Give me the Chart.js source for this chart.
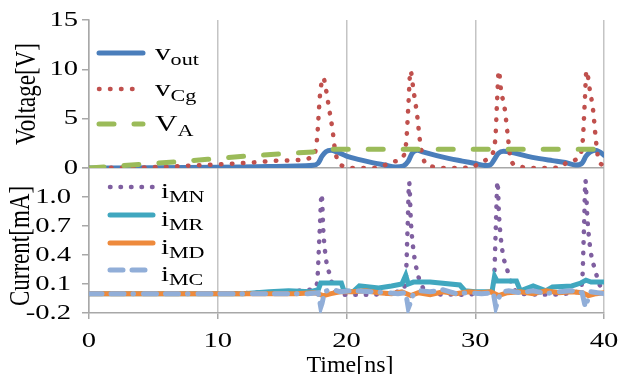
<!DOCTYPE html>
<html lang="en">
<head>
  <meta charset="UTF-8">
  <title>Voltage and current waveforms</title>
  <style>
    body { margin: 0; background: #fff; }
    canvas { display: block; }
  </style>
</head>
<body>
<canvas id="chartCanvas" width="618" height="374"></canvas>
<script src="https://cdn.jsdelivr.net/npm/chart.js"></script>
<script>
  // values, time in ns
  const voutT = [0, 5, 10, 14, 17.4, 17.8, 18.1, 18.4, 18.8, 19.3, 20, 21, 22, 23, 23.8, 24.4, 24.8, 25.1, 25.5, 26, 27, 28, 29, 30, 30.8, 31.2, 31.5, 31.8, 32.2, 32.8, 34, 35, 36, 37, 37.8, 38.3, 38.6, 38.9, 39.3, 39.7, 40];
  const voutV = [0, 0.03, 0.08, 0.15, 0.28, 0.5, 1.2, 1.65, 1.8, 1.6, 1.2, 0.85, 0.55, 0.3, 0.1, 0.2, 0.7, 1.5, 1.8, 1.6, 1.25, 0.95, 0.7, 0.45, 0.25, 0.35, 0.9, 1.5, 1.7, 1.6, 1.2, 0.95, 0.75, 0.55, 0.3, 0.5, 1.2, 1.6, 1.8, 1.6, 1.3];

  const vcgT = [0, 4, 10, 12.5, 15, 17.4, 17.7, 17.95, 18.2, 18.4, 18.65, 18.9, 19.1, 19.3, 19.7, 20.5, 22, 22.8, 23.6, 24.4, 24.65, 24.8, 24.97, 25.2, 25.5, 25.7, 25.95, 26.5, 28, 29.7, 30.4, 31.1, 31.55, 31.7, 31.83, 32.0, 32.3, 32.55, 32.75, 33.3, 35, 36.6, 37.2, 38.0, 38.35, 38.5, 38.64, 38.9, 39.15, 39.36, 39.55, 40];
  const vcgV = [0, 0.05, 0.37, 0.54, 0.75, 1.1, 2.8, 7.5, 9.15, 8.0, 6.0, 4.0, 1.9, 0.8, 0.2, 0, 0, 0.2, 0.64, 1.15, 2.8, 6.2, 9.86, 7.9, 5.2, 2.8, 1.0, 0.2, 0, 0.05, 0.58, 1.08, 2.8, 6.9, 9.86, 7.9, 5.9, 3.0, 0.9, 0.2, 0, 0.05, 0.64, 1.05, 2.8, 6.5, 9.86, 7.9, 5.9, 3.0, 1.0, 0.2];

  const vaT = [0, 3, 6.3, 9.2, 12.2, 14.8, 17.7, 19, 40];
  const vaV = [0, 0.28, 0.58, 0.88, 1.2, 1.42, 1.65, 1.9, 1.9];

  const imnT = [0, 10, 15, 17.2, 17.7, 17.9, 18.07, 18.2, 18.45, 18.7, 19.0, 19.5, 22, 24.3, 24.6, 24.75, 24.87, 25.0, 25.2, 25.5, 25.8, 26.3, 29, 31.2, 31.45, 31.6, 31.73, 31.85, 32.1, 32.5, 32.9, 33.4, 36, 38.0, 38.3, 38.45, 38.56, 38.7, 38.95, 39.3, 39.7, 40];
  const imnI = [0, 0, 0.02, 0.04, 0.1, 0.6, 1.03, 0.65, 0.32, 0.2, 0.06, -0.01, -0.01, 0.03, 0.15, 0.7, 1.15, 0.75, 0.45, 0.22, 0.1, 0.0, -0.01, 0.02, 0.12, 0.7, 1.16, 0.8, 0.45, 0.24, 0.08, 0.0, -0.01, 0.02, 0.12, 0.7, 1.17, 0.8, 0.45, 0.25, 0.08, 0.03];

  const imrT = [0, 12, 14, 15.5, 17.2, 17.8, 18.0, 19.6, 19.8, 20.5, 21, 22.5, 23.5, 24.3, 24.6, 24.8, 25.2, 26.5, 28.8, 29.2, 30, 31.3, 31.5, 31.7, 33.2, 33.5, 34.5, 35.5, 36, 37.5, 38.2, 38.6, 39, 40];
  const imrI = [0, 0, 0.02, 0.03, 0.02, 0.04, 0.11, 0.11, 0.03, 0.02, 0.08, 0.06, 0.08, 0.1, 0.19, 0.1, 0.12, 0.12, 0.09, 0.03, 0.02, 0.02, 0.18, 0.13, 0.13, 0.03, 0.08, 0.03, 0.07, 0.08, 0.11, 0.14, 0.12, 0.12];

  const imdT = [0, 16, 17.5, 18.2, 18.8, 19.5, 20.5, 21.5, 22.5, 23.5, 24.3, 25.0, 25.6, 26.5, 27.5, 28.5, 29.5, 30.5, 31.2, 31.8, 32.5, 33.5, 34.5, 35.5, 36.5, 37.5, 38.3, 38.8, 39.4, 40];
  const imdI = [0, 0, 0.01, -0.02, 0.0, 0.02, 0.02, 0.03, 0.01, 0.0, 0.02, -0.02, 0.01, -0.01, 0.02, 0.0, 0.02, 0.01, 0.02, -0.02, 0.01, 0.02, 0.0, 0.03, 0.01, 0.02, 0.01, -0.02, 0.0, 0.01];

  const imcT = [0, 17, 17.8, 18.0, 18.1, 18.3, 18.8, 19.5, 20.5, 22, 23, 24, 24.6, 24.8, 24.95, 25.2, 25.7, 26.5, 27.5, 28.5, 29.5, 30.5, 31.4, 31.6, 31.75, 32, 32.6, 33.5, 34.5, 35.5, 36.5, 37.5, 38.3, 38.55, 38.7, 38.95, 39.5, 40];
  const imcI = [0, 0, 0.01, -0.14, -0.1, 0.02, 0.05, 0.02, 0.03, 0.02, 0.01, 0.0, 0.01, -0.15, -0.1, 0.0, 0.03, 0.02, 0.04, 0.0, 0.01, 0.0, 0.01, -0.14, -0.08, 0.02, 0.03, 0.01, 0.03, 0.0, 0.02, 0.03, 0.01, -0.14, -0.08, 0.02, 0.01, 0.0];

  const SERIF = '"Liberation Serif", "Times New Roman", serif';
  const SX = 1.3;          // the reference text is rendered wide
  const GRID = '#c4c4c4';
  const AXIS = '#a8a8a8';

  function pairs(xs, ys) {
    return xs.map((x, i) => ({ x: x, y: ys[i] }));
  }

  // text drawn stretched horizontally
  function wideText(ctx, text, x, y, size, align, baseline, sx) {
    ctx.save();
    ctx.font = size + 'px ' + SERIF;
    ctx.fillStyle = '#000';
    ctx.textAlign = align;
    ctx.textBaseline = baseline || 'middle';
    ctx.translate(x, y);
    ctx.scale(sx || SX, 1);
    ctx.fillText(text, 0, 0);
    ctx.restore();
  }

  function upText(ctx, text, x, y, size) {
    ctx.save();
    ctx.font = size + 'px ' + SERIF;
    ctx.fillStyle = '#000';
    ctx.textAlign = 'center';
    ctx.textBaseline = 'middle';
    ctx.translate(x, y);
    ctx.rotate(-Math.PI / 2);
    ctx.scale(1, SX);
    ctx.fillText(text, 0, 0);
    ctx.restore();
  }

  function subLabel(ctx, main, sub, x, y, size, subSize, dy) {
    ctx.save();
    ctx.font = size + 'px ' + SERIF;
    const w = ctx.measureText(main).width * SX;
    ctx.restore();
    wideText(ctx, main, x, y, size, 'left', 'alphabetic');
    wideText(ctx, sub, x + w, y + dy, subSize, 'left', 'alphabetic');
  }

  const legendLayout = {
    yV: { x0: 99, x1: 143, tx: 155, rows: [53, 89, 124], size: 24, sub: 17, base: 7, dy: 5 },
    yI: { x0: 110, x1: 153, tx: 161, rows: [187, 215, 243, 270], size: 22, sub: 17, base: 11, dy: 4 }
  };

  const paperText = {
    id: 'paperText',
    afterDraw(chart) {
      const ctx = chart.ctx;
      const sx = chart.scales.x, sv = chart.scales.yV, si = chart.scales.yI;

      sx.ticks.forEach(t => wideText(ctx, String(t.value), sx.getPixelForValue(t.value), 341, 22, 'center'));
      sv.ticks.forEach(t => wideText(ctx, String(t.value), 78, sv.getPixelForValue(t.value), 22, 'right'));
      si.ticks.forEach(t => {
        if (t.value > 1.25) return;
        wideText(ctx, t.value.toFixed(1), 71, si.getPixelForValue(t.value), 22, 'right');
      });

      upText(ctx, 'Voltage[V]', 27, 94, 23);
      upText(ctx, 'Current[mA]', 21, 246, 23);
      wideText(ctx, 'Time[ns]', 350, 366, 24, 'center', 'middle', 1.0);

      ['yV', 'yI'].forEach(axis => {
        const L = legendLayout[axis];
        const sets = chart.data.datasets.filter(d => d.yAxisID === axis);
        sets.forEach((d, i) => {
          const y = L.rows[i];
          ctx.save();
          ctx.strokeStyle = d.borderColor;
          ctx.lineWidth = d.borderWidth;
          ctx.lineCap = d.borderCapStyle || 'butt';
          ctx.setLineDash(d.borderDash || []);
          ctx.beginPath();
          ctx.moveTo(L.x0, y);
          ctx.lineTo(L.x1, y);
          ctx.stroke();
          ctx.restore();
          subLabel(ctx, d.main, d.sub, L.tx, y + L.base, L.size, L.sub, L.dy);
        });
      });
    }
  };

  const ctx = document.getElementById('chartCanvas').getContext('2d');

  new Chart(ctx, {
    type: 'line',
    data: {
      datasets: [
        { main: 'v', sub: 'out', data: pairs(voutT, voutV), yAxisID: 'yV', order: 6,
          borderColor: '#4a7ebb', borderWidth: 5, borderCapStyle: 'round', cubicInterpolationMode: 'monotone' },
        { main: 'v', sub: 'Cg', data: pairs(vcgT, vcgV), yAxisID: 'yV', order: 5,
          borderColor: '#c0504d', borderWidth: 4.5, borderCapStyle: 'round', borderDash: [0.5, 10.5], cubicInterpolationMode: 'monotone' },
        { main: 'V', sub: 'A', data: pairs(vaT, vaV), yAxisID: 'yV', order: 4,
          borderColor: '#9bbb59', borderWidth: 5, borderCapStyle: 'round', borderDash: [15, 20] },
        { main: 'i', sub: 'MN', data: pairs(imnT, imnI), yAxisID: 'yI', order: 3,
          borderColor: '#7f5fa0', borderWidth: 4.5, borderCapStyle: 'round', borderDash: [0.5, 10], cubicInterpolationMode: 'monotone' },
        { main: 'i', sub: 'MR', data: pairs(imrT, imrI), yAxisID: 'yI', order: 2,
          borderColor: '#40a7bf', borderWidth: 5, borderCapStyle: 'round' },
        { main: 'i', sub: 'MD', data: pairs(imdT, imdI), yAxisID: 'yI', order: 1,
          borderColor: '#ee8a3c', borderWidth: 5, borderCapStyle: 'round' },
        { main: 'i', sub: 'MC', data: pairs(imcT, imcI), yAxisID: 'yI', order: 0,
          borderColor: '#91aed8', borderWidth: 5, borderCapStyle: 'round', borderDash: [13, 9, 13, 9, 0.5, 10] }
      ]
    },
    options: {
      responsive: false,
      animation: false,
      devicePixelRatio: 1,
      layout: { padding: { top: 20, right: 14, left: 0, bottom: 0 } },
      elements: { point: { radius: 0 }, line: { tension: 0 } },
      plugins: { legend: { display: false }, tooltip: { enabled: false } },
      scales: {
        x: {
          type: 'linear', min: 0, max: 40,
          ticks: { display: false, stepSize: 10 },
          grid: { color: GRID, lineWidth: 1.5, tickLength: 6, tickColor: AXIS },
          border: { color: AXIS, width: 1.5 },
          afterFit: s => { s.height = 61; }
        },
        yI: {
          type: 'linear', position: 'left', stack: 'panels', stackWeight: 145,
          min: -0.2, max: 1.3,
          ticks: { display: false, stepSize: 0.3 },
          grid: { drawOnChartArea: false, tickLength: 7, tickColor: AXIS, lineWidth: 1.5 },
          border: { color: AXIS, width: 1.5 },
          afterFit: s => { s.width = 89; }
        },
        yV: {
          type: 'linear', position: 'left', stack: 'panels', stackWeight: 148,
          min: 0, max: 15,
          ticks: { display: false, stepSize: 5 },
          grid: {
            color: c => (c.tick && c.tick.value === 0 ? AXIS : 'rgba(0,0,0,0)'),
            tickColor: AXIS, tickLength: 7, lineWidth: 1.5
          },
          border: { color: AXIS, width: 1.5 },
          afterFit: s => { s.width = 89; }
        }
      }
    },
    plugins: [paperText]
  });
</script>
</body>
</html>
